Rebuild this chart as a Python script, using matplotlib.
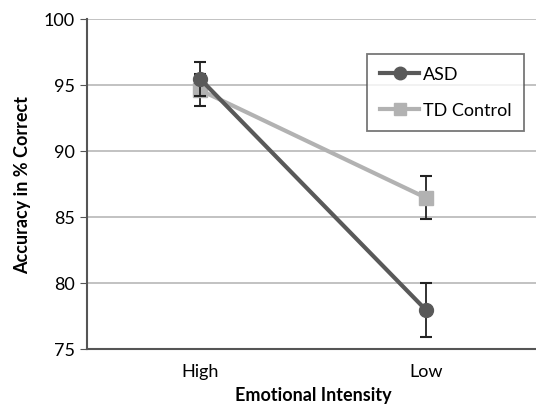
import matplotlib.pyplot as plt
from matplotlib.lines import Line2D
import numpy as np

plt.rcParams['font.family'] = ['Lato', 'DejaVu Sans']

cats = ['High', 'Low']
asd = [95.45, 77.95]
asd_err = [1.3, 2.05]
td = [94.6, 86.45]
td_err = [1.2, 1.65]

asd_col = '#595959'
td_col = '#b2b2b2'

fig = plt.figure(figsize=(5.36, 4.14), dpi=100)
ax = fig.add_axes([0.163, 0.155, 0.842, 0.797])

x = np.arange(len(cats))
ax.errorbar(x, td, yerr=td_err, color=td_col, marker='s', markersize=10,
            linewidth=3, ecolor='#222222', elinewidth=1.3, capsize=4, capthick=1.5,
            zorder=3)
ax.errorbar(x, asd, yerr=asd_err, color=asd_col, marker='o', markersize=10,
            linewidth=3, ecolor='#222222', elinewidth=1.3, capsize=4, capthick=1.5,
            zorder=4)

ax.set_xlim(-0.5, 1.5)
ax.set_ylim(75, 100)
ax.set_yticks(np.arange(75, 101, 5))
ax.set_xticks(x)
ax.set_xticklabels(cats)
ax.yaxis.grid(True, color='#b8b8b8', linewidth=1.2)
ax.set_axisbelow(True)
for s in ['top', 'right']:
    ax.spines[s].set_visible(False)
ax.spines['left'].set_color('#555555')
ax.spines['bottom'].set_color('#555555')
ax.spines['left'].set_linewidth(1.5)
ax.spines['bottom'].set_linewidth(1.5)
ax.tick_params(axis='y', length=5, direction='out', color='#555555', labelsize=13, pad=4)
ax.tick_params(axis='x', length=0, labelsize=13, pad=10)

ax.set_xlabel('Emotional Intensity', fontsize=13, fontweight='bold', labelpad=5)
ax.set_ylabel('Accuracy in % Correct', fontsize=13, fontweight='bold', labelpad=9)

handles = [Line2D([], [], color=asd_col, marker='o', markersize=9, linewidth=3),
           Line2D([], [], color=td_col, marker='s', markersize=9, linewidth=3)]
leg = ax.legend(handles, ['ASD', 'TD Control'], loc='upper right', bbox_to_anchor=(0.968, 0.895),
                fontsize=13, frameon=True, fancybox=False, edgecolor='#555555',
                handlelength=2.2, borderpad=0.7, labelspacing=1.1, handletextpad=0.2,
                borderaxespad=0)
leg.get_frame().set_linewidth(1.3)

fig.savefig('out.png', dpi=100)
